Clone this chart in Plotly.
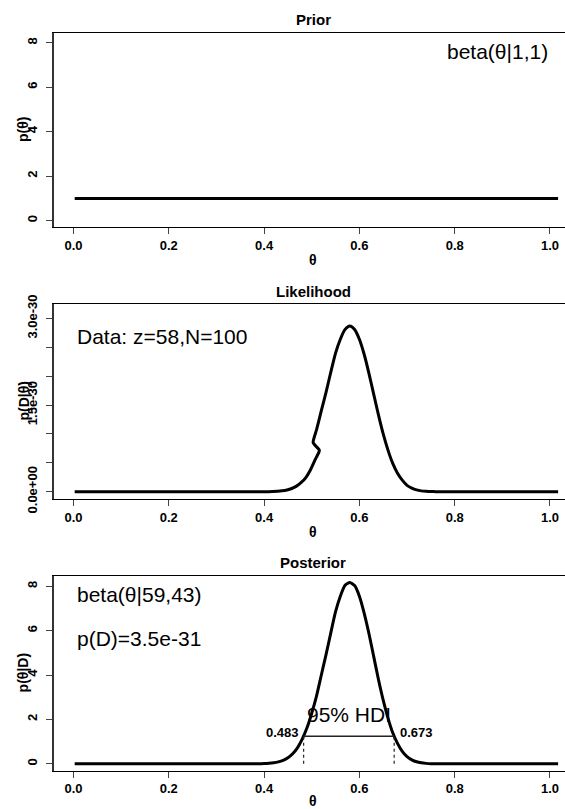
import plotly.graph_objects as go

# ---------------- data ----------------
prior_theta = [0.0025, 0.25, 0.509, 0.75, 1.017]
prior_p = [1.0, 1.0, 1.0, 1.0, 1.0]

lik_theta = [0.0025, 0.30, 0.40, 0.418, 0.428, 0.438, 0.448, 0.458, 0.468, 0.478, 0.488, 0.498,
             0.508, 0.516, 0.503, 0.51, 0.52, 0.53, 0.54, 0.55, 0.56, 0.57, 0.58, 0.59, 0.60,
             0.61, 0.62, 0.63, 0.64, 0.65, 0.66, 0.67, 0.68, 0.69, 0.70, 0.71, 0.72, 0.73,
             0.74, 0.75, 0.76, 0.85, 1.017]
lik_p = [0.0, 0.0, 0.0, 0.004, 0.008, 0.016, 0.031, 0.056, 0.097, 0.16, 0.25, 0.39,
         0.57, 0.716, 0.85, 1.07, 1.40, 1.72, 2.07, 2.40, 2.64, 2.81, 2.87, 2.81, 2.64,
         2.38, 2.05, 1.69, 1.33, 1.00, 0.72, 0.49, 0.32, 0.20, 0.11, 0.063, 0.032, 0.015,
         0.007, 0.003, 0.001, 0.0, 0.0]
lik_scale = 1e-30

post_theta = [0.0025, 0.30, 0.38, 0.39, 0.40, 0.41, 0.42, 0.43, 0.44, 0.45, 0.46, 0.47, 0.48,
              0.49, 0.50, 0.51, 0.52, 0.53, 0.54, 0.55, 0.56, 0.57, 0.58, 0.59, 0.60, 0.61,
              0.62, 0.63, 0.64, 0.65, 0.66, 0.67, 0.68, 0.69, 0.70, 0.71, 0.72, 0.73, 0.74,
              0.75, 0.76, 0.77, 0.85, 1.017]
post_p = [0.0, 0.0, 0.002, 0.005, 0.012, 0.024, 0.047, 0.089, 0.16, 0.276, 0.456, 0.72, 1.11,
          1.62, 2.28, 3.05, 3.99, 4.92, 5.90, 6.85, 7.55, 8.04, 8.17, 8.03, 7.55, 6.79,
          5.87, 4.84, 3.80, 2.87, 2.06, 1.40, 0.92, 0.56, 0.32, 0.18, 0.092, 0.044, 0.020,
          0.008, 0.003, 0.001, 0.0, 0.0]

hdi_low, hdi_high, hdi_height = 0.483, 0.673, 1.237

x_ticks = [0.0, 0.2, 0.4, 0.6, 0.8, 1.0]
x_ticktext = ["0.0", "0.2", "0.4", "0.6", "0.8", "1.0"]
dens_ticks = [0, 2, 4, 6, 8]
lik_ticks = [0.0, 0.5e-30, 1.0e-30, 1.5e-30, 2.0e-30, 2.5e-30, 3.0e-30]
lik_ticktext = ["0.0e+00", "", "", "1.5e-30", "", "", "3.0e-30"]

# ---------------- layout helpers ----------------
W, H = 565, 809
FONT = "Arial, Liberation Sans, sans-serif"
def px_y(p):
    return 1 - p / H
def px_x(p):
    return p / W

dom1 = [px_y(227.3), px_y(32.7)]
dom2 = [px_y(499.0), px_y(304.0)]
dom3 = [px_y(770.7), px_y(576.0)]
xdom = [px_x(54), 1.0]
xrange = [-0.0409, 1.0315]

fig = go.Figure()
fig.add_trace(go.Scatter(x=prior_theta, y=prior_p, mode="lines", line=dict(color="black", width=3),
                         xaxis="x", yaxis="y"))
fig.add_trace(go.Scatter(x=lik_theta, y=[v * lik_scale for v in lik_p], mode="lines",
                         line=dict(color="black", width=3, shape="spline", smoothing=0.6),
                         xaxis="x2", yaxis="y2"))
fig.add_trace(go.Scatter(x=post_theta, y=post_p, mode="lines",
                         line=dict(color="black", width=3, shape="spline", smoothing=0.6),
                         xaxis="x3", yaxis="y3"))
# HDI
fig.add_trace(go.Scatter(x=[hdi_low, hdi_high], y=[hdi_height, hdi_height], mode="lines",
                         line=dict(color="#222", width=1.5), xaxis="x3", yaxis="y3"))
fig.add_trace(go.Scatter(x=[hdi_low, hdi_low], y=[0, hdi_height], mode="lines",
                         line=dict(color="#222", width=1.2, dash="3px,3px"), xaxis="x3", yaxis="y3"))
fig.add_trace(go.Scatter(x=[hdi_high, hdi_high], y=[0, hdi_height], mode="lines",
                         line=dict(color="#222", width=1.2, dash="3px,3px"), xaxis="x3", yaxis="y3"))

tickfont = dict(family=FONT, size=13, color="black", weight="bold")
def xaxis(anchor):
    return dict(domain=xdom, range=xrange, anchor=anchor, tickvals=x_ticks, ticktext=x_ticktext,
                ticks="outside", ticklen=6, tickcolor="#444", tickwidth=1, automargin=False,
                showline=True, linecolor="black", linewidth=1, mirror=True,
                showgrid=False, zeroline=False, tickfont=tickfont, ticklabelstandoff=0, fixedrange=True)
def yaxis(anchor, dom, rng, tv, tt):
    return dict(domain=dom, range=rng, anchor=anchor, tickvals=tv, ticktext=tt, tickangle=-90,
                ticks="outside", ticklen=6, tickcolor="#444", tickwidth=1, automargin=False,
                showline=True, linecolor="#333", linewidth=1.5, mirror=False,
                showgrid=False, zeroline=False, tickfont=tickfont, ticklabelstandoff=4, fixedrange=True)

fig.update_layout(
    width=W, height=H, margin=dict(l=0, r=0, t=0, b=0, autoexpand=False),
    plot_bgcolor="white", paper_bgcolor="white", showlegend=False,
    xaxis=xaxis("y"), xaxis2=xaxis("y2"), xaxis3=xaxis("y3"),
    yaxis=yaxis("x", dom1, [-0.3, 8.45], dens_ticks, [str(v) for v in dens_ticks]),
    yaxis2=yaxis("x2", dom2, [-0.126e-30, 3.25e-30], lik_ticks, lik_ticktext),
    yaxis3=yaxis("x3", dom3, [-0.31, 8.46], dens_ticks, [str(v) for v in dens_ticks]),
)

ann = []
bold15 = dict(family=FONT, size=15, color="black", weight="bold")
for txt, ypx in [("Prior", 20), ("Likelihood", 291.7), ("Posterior", 562.7)]:
    ann.append(dict(text=txt, xref="paper", yref="paper", x=px_x(313), y=px_y(ypx),
                    xanchor="center", yanchor="middle", showarrow=False, font=bold15))
for ypx in [260, 531.7, 800.5]:
    ann.append(dict(text="θ", xref="paper", yref="paper", x=px_x(313), y=px_y(ypx),
                    xanchor="center", yanchor="middle", showarrow=False,
                    font=dict(family=FONT, size=14, color="black", weight="bold")))
for txt, ypx in [("p(θ)", 130), ("p(D|θ)", 401.5), ("p(θ|D)", 673.4)]:
    ann.append(dict(text=txt, xref="paper", yref="paper", x=px_x(23), y=px_y(ypx),
                    xanchor="center", yanchor="middle", showarrow=False, textangle=-90,
                    font=dict(family=FONT, size=14, color="black", weight="bold")))
big = dict(family=FONT, size=21, color="black")
ann.append(dict(text="beta(θ|1,1)", xref="x", yref="y", x=1.0, y=7.6, xanchor="right",
                yanchor="middle", showarrow=False, font=big))
ann.append(dict(text="Data: z=58,N=100", xref="x2", yref="y2", x=0.003, y=2.68e-30, xanchor="left",
                yanchor="middle", showarrow=False, font=big))
ann.append(dict(text="beta(θ|59,43)", xref="x3", yref="y3", x=0.003, y=7.62, xanchor="left",
                yanchor="middle", showarrow=False, font=big))
ann.append(dict(text="p(D)=3.5e-31", xref="x3", yref="y3", x=0.003, y=5.63, xanchor="left",
                yanchor="middle", showarrow=False, font=big))
ann.append(dict(text="95% HDI", xref="x3", yref="y3", x=(hdi_low + hdi_high) / 2, y=2.23,
                xanchor="center", yanchor="middle", showarrow=False, font=big))
small = dict(family=FONT, size=13, color="black", weight="bold")
ann.append(dict(text=f"{hdi_low:.3f}", xref="x3", yref="y3", x=0.4768, y=1.40, xanchor="right",
                yanchor="middle", showarrow=False, font=small))
ann.append(dict(text=f"{hdi_high:.3f}", xref="x3", yref="y3", x=0.6816, y=1.40, xanchor="left",
                yanchor="middle", showarrow=False, font=small))
fig.update_layout(annotations=ann)

fig.write_html("out.html", config={"displayModeBar": False},
               post_script="document.body.style.margin='0';document.body.style.overflow='hidden';")
